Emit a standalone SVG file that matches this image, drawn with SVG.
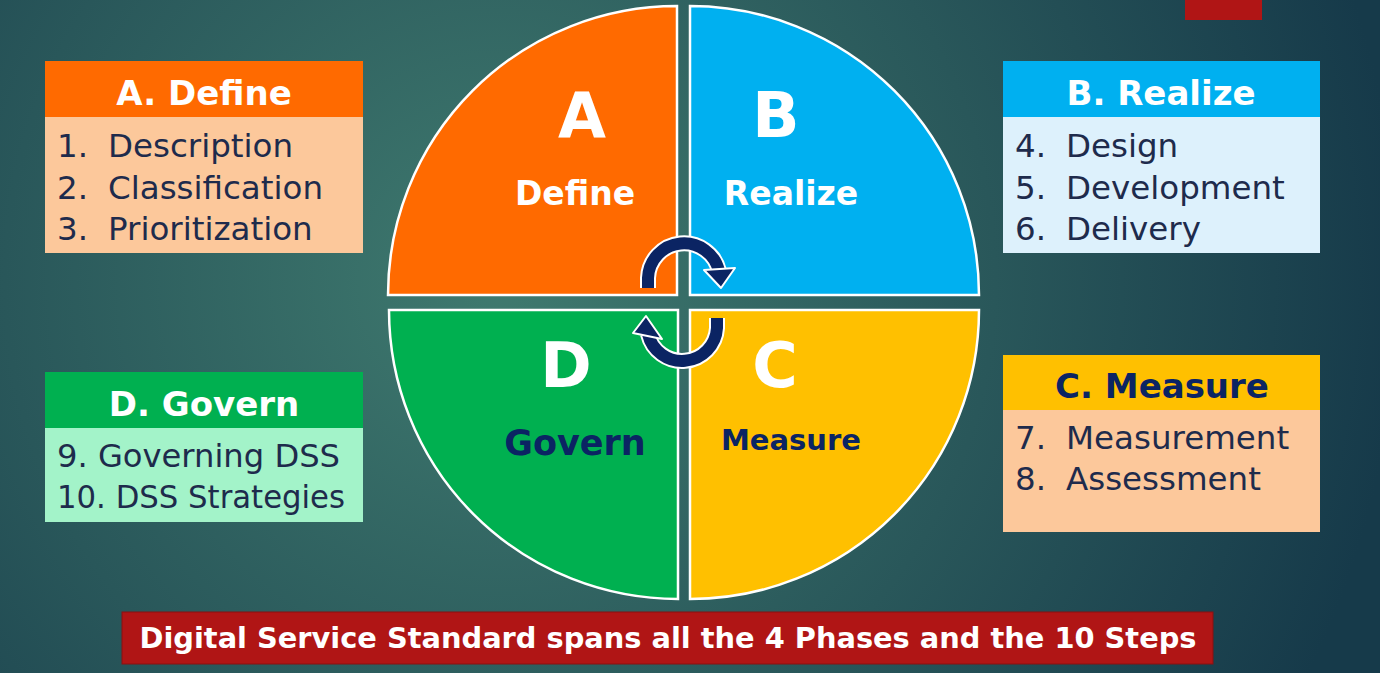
<svg xmlns="http://www.w3.org/2000/svg" width="1380" height="673" viewBox="0 0 1380 673">
<defs>
<radialGradient id="bg" cx="500" cy="280" r="900" gradientUnits="userSpaceOnUse">
<stop offset="0" stop-color="#3f7a6f"/>
<stop offset="0.55" stop-color="#29575a"/>
<stop offset="1" stop-color="#163a4a"/>
</radialGradient>
<style>
.hdr{font-family:"DejaVu Sans",sans-serif;font-weight:bold;font-size:34px;text-anchor:middle}
.item{font-family:"DejaVu Sans",sans-serif;font-size:32.5px;fill:#1e2b4c}
.big{font-family:"DejaVu Sans",sans-serif;font-weight:bold;font-size:62px;fill:#fff;text-anchor:middle}
.lbl{font-family:"DejaVu Sans",sans-serif;font-weight:bold;text-anchor:middle}
.q{stroke:#fff;stroke-width:2.5}
.arcw{fill:none;stroke:#fff;stroke-width:16}
.arcn{fill:none;stroke:#0b2463;stroke-width:12}
.head{fill:#0b2463;stroke:#fff;stroke-width:2;stroke-linejoin:round}
</style>
</defs>
<rect width="1380" height="673" fill="url(#bg)"/>
<rect x="1185" y="0" width="77" height="20" fill="#b01515"/>

<g id="quadrants">
<g id="quad-a"><path class="q" fill="#ff6a00" d="M677,295 L388,295 A289,289 0 0 1 677,6 Z"/>
<text class="big" x="582" y="137">A</text>
<text class="lbl" x="575" y="205" font-size="33" fill="#fff">Define</text></g>
<g id="quad-b"><path class="q" fill="#00b0f0" d="M690,295 L690,6 A289,289 0 0 1 979,295 Z"/>
<text class="big" x="776" y="137">B</text>
<text class="lbl" x="791" y="205" font-size="33" fill="#fff">Realize</text></g>
<g id="quad-d"><path class="q" fill="#00b050" d="M678,310 L678,599 A289,289 0 0 1 389,310 Z"/>
<text class="big" x="566" y="387">D</text>
<text class="lbl" x="575" y="455" font-size="35" fill="#0b2463">Govern</text></g>
<g id="quad-c"><path class="q" fill="#ffc000" d="M690,310 L979,310 A289,289 0 0 1 690,599 Z"/>
<text class="big" x="775" y="387">C</text>
<text class="lbl" x="791" y="450" font-size="29" fill="#0b2463">Measure</text></g>
</g>

<g id="connectors">
<path class="arcw" d="M648,288 L648,278 A36,36 0 0 1 719,271"/>
<path class="arcn" d="M648,288 L648,278 A36,36 0 0 1 719,271"/>
<polygon class="head" points="704,270 735,268 721,288"/>
<path class="arcw" d="M717,318 L717,328 A35,35 0 0 1 648,334"/>
<path class="arcn" d="M717,318 L717,328 A35,35 0 0 1 648,334"/>
<polygon class="head" points="633,333 662,339 646,316"/>
</g>

<g id="box-a">
<rect x="45" y="61" width="318" height="56" fill="#ff6a00"/>
<rect x="45" y="117" width="318" height="136" fill="#fcc89b"/>
<text class="hdr" x="204" y="105" fill="#fff">A. Define</text>
<text class="item" y="157"><tspan x="57">1.</tspan><tspan x="108">Description</tspan></text>
<text class="item" y="199"><tspan x="57">2.</tspan><tspan x="108">Classification</tspan></text>
<text class="item" y="240"><tspan x="57">3.</tspan><tspan x="108">Prioritization</tspan></text>
</g>

<g id="box-b">
<rect x="1003" y="61" width="317" height="56" fill="#00b0f0"/>
<rect x="1003" y="117" width="317" height="136" fill="#ddf1fc"/>
<text class="hdr" x="1161" y="105" fill="#fff">B. Realize</text>
<text class="item" y="157"><tspan x="1015">4.</tspan><tspan x="1066">Design</tspan></text>
<text class="item" y="199"><tspan x="1015">5.</tspan><tspan x="1066">Development</tspan></text>
<text class="item" y="240"><tspan x="1015">6.</tspan><tspan x="1066">Delivery</tspan></text>
</g>

<g id="box-c">
<rect x="1003" y="355" width="317" height="55" fill="#ffc000"/>
<rect x="1003" y="410" width="317" height="122" fill="#fcc89b"/>
<text class="hdr" x="1162" y="398" fill="#0b2463" font-size="35">C. Measure</text>
<text class="item" y="449"><tspan x="1015">7.</tspan><tspan x="1066">Measurement</tspan></text>
<text class="item" y="490"><tspan x="1015">8.</tspan><tspan x="1066">Assessment</tspan></text>
</g>

<g id="box-d">
<rect x="45" y="372" width="318" height="56" fill="#00b050"/>
<rect x="45" y="428" width="318" height="94" fill="#a3f3c9"/>
<text class="hdr" x="204" y="416" fill="#fff">D. Govern</text>
<text class="item" x="57" y="467" textLength="283" lengthAdjust="spacingAndGlyphs">9. Governing DSS</text>
<text class="item" x="57" y="508" textLength="288" lengthAdjust="spacingAndGlyphs">10. DSS Strategies</text>
</g>

<g id="banner">
<rect x="122" y="612" width="1091" height="52" fill="#b01515" stroke="#8a1010" stroke-width="1"/>
<text class="lbl" x="668" y="648" font-size="28" fill="#fff" textLength="1057" lengthAdjust="spacingAndGlyphs">Digital Service Standard spans all the 4 Phases and the 10 Steps</text>
</g>
</svg>
